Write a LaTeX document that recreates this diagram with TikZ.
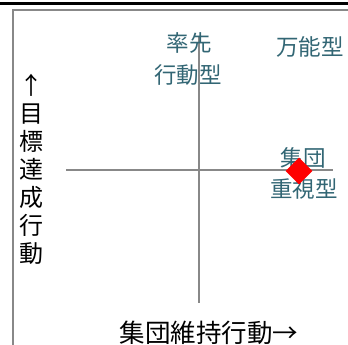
\documentclass[tikz,border=0pt]{standalone}
\usepackage{fontspec}
\setmainfont{Noto Sans CJK JP}
\usetikzlibrary{shapes.geometric}
\definecolor{teallabel}{RGB}{50,102,116}
\definecolor{axisgray}{RGB}{136,136,136}
\tikzset{
  typelabel/.style={text=teallabel, font=\fontsize{22.5bp}{28bp}\selectfont, align=center, inner sep=0pt},
  axislabel/.style={text=black, font=\fontsize{24bp}{28bp}\selectfont, align=center, inner sep=0pt},
  axisline/.style={draw=axisgray, line width=1.6bp},
  framegray/.style={draw=axisgray, line width=2bp},
  marker/.style={diamond, fill=red, draw=none, minimum size=27bp, inner sep=0pt}
}
\begin{document}
\begin{tikzpicture}[x=1bp, y=-1bp]
\useasboundingbox (0,0) rectangle (348,345);
\fill[black] (0,1.5) rectangle (348,5);
\draw[framegray] (13,346) -- (13,10) -- (349,10);
\coordinate (vtop) at (199,37);
\coordinate (vbot) at (199,303);
\coordinate (hleft) at (66,170);
\coordinate (hright) at (333,170);
\draw[axisline] (vtop) -- (vbot);
\draw[axisline] (hleft) -- (hright);
\node[typelabel] (lead1) at (189,43) {率先};
\node[typelabel] (lead2) at (188,75) {行動型};
\node[typelabel] (allround) at (310,47) {万能型};
\node[typelabel] (grp1) at (303,158) {集団};
\node[typelabel] (grp2) at (304,189) {重視型};
\node[marker] (pt) at (299,171) {};
\node[axislabel] (ylab) at (31,169.5) {↑\\目\\標\\達\\成\\行\\動};
\node[axislabel, font=\fontsize{25.5bp}{28bp}\selectfont] (xlab) at (209,333) {集団維持行動→};
\end{tikzpicture}
\end{document}
